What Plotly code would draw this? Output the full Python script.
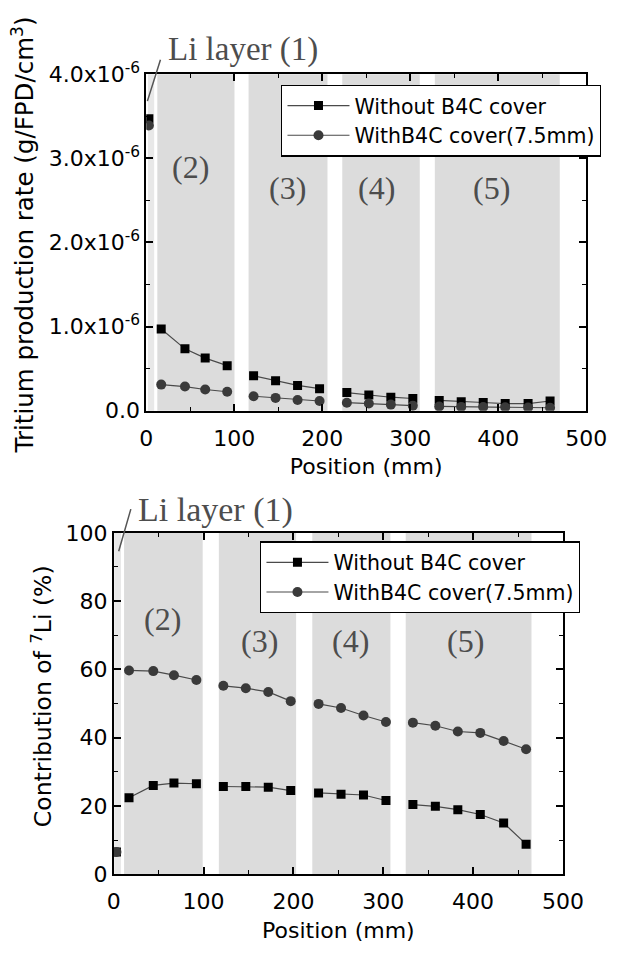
import plotly.graph_objects as go

# ---------------- data ----------------
# positions (mm); None separates regions (lines only join points within a region)
pos = [3, None,
       17, 44, 67, 92, None,
       122, 147, 172, 197, None,
       228, 253, 278, 303, None,
       333, 358, 383, 408, 434, 459]

# tritium production rate (g/FPD/cm3)
rate_without = [3.47e-6, None,
                0.97e-6, 0.735e-6, 0.625e-6, 0.535e-6, None,
                0.415e-6, 0.355e-6, 0.30e-6, 0.262e-6, None,
                0.215e-6, 0.185e-6, 0.16e-6, 0.145e-6, None,
                0.122e-6, 0.105e-6, 0.097e-6, 0.085e-6, 0.085e-6, 0.115e-6]
rate_with = [3.39e-6, None,
             0.31e-6, 0.287e-6, 0.252e-6, 0.225e-6, None,
             0.172e-6, 0.152e-6, 0.128e-6, 0.115e-6, None,
             0.095e-6, 0.085e-6, 0.072e-6, 0.06e-6, None,
             0.05e-6, 0.045e-6, 0.043e-6, 0.04e-6, 0.038e-6, 0.035e-6]

# contribution of 7Li (%)
contrib_without = [6.5, None,
                   22.4, 26.0, 26.7, 26.5, None,
                   25.7, 25.7, 25.5, 24.5, None,
                   23.8, 23.4, 23.2, 21.6, None,
                   20.4, 19.9, 18.9, 17.5, 15.0, 8.8]
contrib_with = [6.5, None,
                59.7, 59.5, 58.3, 56.9, None,
                55.2, 54.5, 53.4, 50.7, None,
                49.9, 48.7, 46.5, 44.6, None,
                44.4, 43.5, 41.8, 41.4, 39.0, 36.6]

series_names = ["Without B4C cover", "WithB4C cover(7.5mm)"]

# shaded regions (mm): Li layer (1), (2), (3), (4), (5)
region_labels = ["(2)", "(3)", "(4)", "(5)"]
top_region_start = [2, 12.6, 116.3, 222.8, 328]
top_region_end = [9, 100.3, 206, 310.9, 470]
bot_region_start = [0.6, 11.5, 117, 221, 325]
bot_region_end = [8, 99, 203, 308, 465]

top_label_x = [50, 160, 262, 392]
top_label_y = [2.9e-6, 2.65e-6, 2.65e-6, 2.65e-6]
bot_label_x = [54, 162, 264, 391]
bot_label_y = [74.7, 68.4, 68.4, 68.4]

x_ticks = [0, 100, 200, 300, 400, 500]
top_y_ticks = [0, 1e-6, 2e-6, 3e-6, 4e-6]
top_y_ticktext = ["0.0", "1.0x10<sup>-6</sup>", "2.0x10<sup>-6</sup>",
                  "3.0x10<sup>-6</sup>", "4.0x10<sup>-6</sup>"]
bot_y_ticks = [0, 20, 40, 60, 80, 100]

# ---------------- styling ----------------
W, H = 632, 958
SANS = "DejaVu Sans"
SERIF = "Liberation Serif"
LINE_C = "#4a4a4a"
SHADE = "#dcdcdc"
SHADE_LI = "#e8e8e8"
SERIF_C = "#4d4d4d"


def px_dom(a, b, total):
    return [a / total, b / total]


fig = go.Figure()

for xa, ya, lg, ys in (("x", "y", "legend", (rate_without, rate_with)),
                       ("x2", "y2", "legend2", (contrib_without, contrib_with))):
    fig.add_trace(go.Scatter(x=pos, y=ys[0], name=series_names[0], mode="lines+markers",
                             line=dict(color=LINE_C, width=1.2),
                             marker=dict(symbol="square", size=9, color="black"),
                             connectgaps=False, xaxis=xa, yaxis=ya, legend=lg))
    fig.add_trace(go.Scatter(x=pos, y=ys[1], name=series_names[1], mode="lines+markers",
                             line=dict(color=LINE_C, width=1.2),
                             marker=dict(symbol="circle", size=10, color="#3a3a3a"),
                             connectgaps=False, xaxis=xa, yaxis=ya, legend=lg))

shapes = []
for i, (a, b) in enumerate(zip(top_region_start, top_region_end)):
    shapes.append(dict(type="rect", xref="x", yref="y domain", x0=a, x1=b, y0=0, y1=1,
                       fillcolor=SHADE_LI if i == 0 else SHADE, line=dict(width=0), layer="below"))
for i, (a, b) in enumerate(zip(bot_region_start, bot_region_end)):
    shapes.append(dict(type="rect", xref="x2", yref="y2 domain", x0=a, x1=b, y0=0, y1=1,
                       fillcolor=SHADE_LI if i == 0 else SHADE, line=dict(width=0), layer="below"))

annotations = []
for t, x, y in zip(region_labels, top_label_x, top_label_y):
    annotations.append(dict(text=t, x=x, y=y, xref="x", yref="y", showarrow=False,
                            font=dict(family=SERIF, size=32, color=SERIF_C)))
for t, x, y in zip(region_labels, bot_label_x, bot_label_y):
    annotations.append(dict(text=t, x=x, y=y, xref="x2", yref="y2", showarrow=False,
                            font=dict(family=SERIF, size=32, color=SERIF_C)))

# Li layer labels with leader lines
annotations.append(dict(text="Li layer (1)", x=22, y=1.072, xref="x", yref="y domain",
                        xanchor="left", yanchor="middle", showarrow=False,
                        font=dict(family=SERIF, size=33, color=SERIF_C)))
annotations.append(dict(text="", x=1.3, y=3.68e-6, ax=16.7, ay=4.19e-6, xref="x", yref="y",
                        axref="x", ayref="y", showarrow=True, arrowhead=0, arrowwidth=1.5,
                        arrowcolor="#555555"))
annotations.append(dict(text="Li layer (1)", x=25, y=1.066, xref="x2", yref="y2 domain",
                        xanchor="left", yanchor="middle", showarrow=False,
                        font=dict(family=SERIF, size=34, color=SERIF_C)))
annotations.append(dict(text="", x=5.5, y=94.6, ax=19.5, ay=107.4, xref="x2", yref="y2",
                        axref="x2", ayref="y2", showarrow=True, arrowhead=0, arrowwidth=1.5,
                        arrowcolor="#555555"))

# y-axis titles
annotations.append(dict(text="Tritium production rate (g/FPD/cm<sup>3</sup>)",
                        x=17 / W, y=1 - 226 / H, xref="paper", yref="paper", textangle=-90,
                        xanchor="center", yanchor="middle",
                        showarrow=False, font=dict(family=SANS, size=24.5, color="black")))
annotations.append(dict(text="Contribution of <sup>7</sup>Li (%)",
                        x=37 / W, y=1 - 701 / H, xref="paper", yref="paper", textangle=-90,
                        xanchor="center", yanchor="middle",
                        showarrow=False, font=dict(family=SANS, size=23.5, color="black")))

axis_common = dict(showline=True, linecolor="black", linewidth=1.5, mirror="ticks",
                   ticks="inside", ticklen=7, tickwidth=1.5, tickcolor="black",
                   showgrid=False, zeroline=False,
                   tickfont=dict(family=SANS, size=22, color="black"))
minor_common = dict(ticks="inside", ticklen=4, tickwidth=1.2, tickcolor="black")
xtitle = dict(text="Position (mm)", font=dict(family=SANS, size=22, color="black"), standoff=9)
legend_common = dict(xanchor="left", yanchor="top", bgcolor="white", bordercolor="black",
                     borderwidth=1.2, font=dict(family=SANS, size=20.5, color="black"),
                     tracegroupgap=0, itemwidth=62)

fig.update_layout(
    width=W, height=H, margin=dict(l=0, r=0, t=0, b=0),
    paper_bgcolor="white", plot_bgcolor="white",
    shapes=shapes, annotations=annotations,
    xaxis=dict(domain=px_dom(145.7, 606, W), range=[0, 500], tickvals=x_ticks,
               minor=dict(dtick=50, **minor_common), title=xtitle, ticklabelstandoff=7,
               anchor="y", **axis_common),
    yaxis=dict(domain=[1 - 407 / H, 1 - 60 / H], range=[0, 4e-6], tickvals=top_y_ticks,
               ticktext=top_y_ticktext, minor=dict(dtick=0.5e-6, **minor_common),
               anchor="x", **axis_common),
    xaxis2=dict(domain=px_dom(111.7, 581.7, W), range=[0, 500], tickvals=x_ticks,
                minor=dict(dtick=50, **minor_common), title=xtitle, ticklabelstandoff=7,
                anchor="y2", **axis_common),
    yaxis2=dict(domain=[1 - 885 / H, 1 - 533 / H], range=[0, 100], tickvals=bot_y_ticks,
                minor=dict(dtick=10, **minor_common),
                anchor="x2", **axis_common),
    legend=dict(x=287 / W, y=1 - 70.7 / H, **legend_common),
    legend2=dict(x=265 / W, y=1 - 541.7 / H, **legend_common),
    showlegend=True,
)

fig.write_html("out.html", config={"displayModeBar": False},
               post_script="document.body.style.margin='0';")
